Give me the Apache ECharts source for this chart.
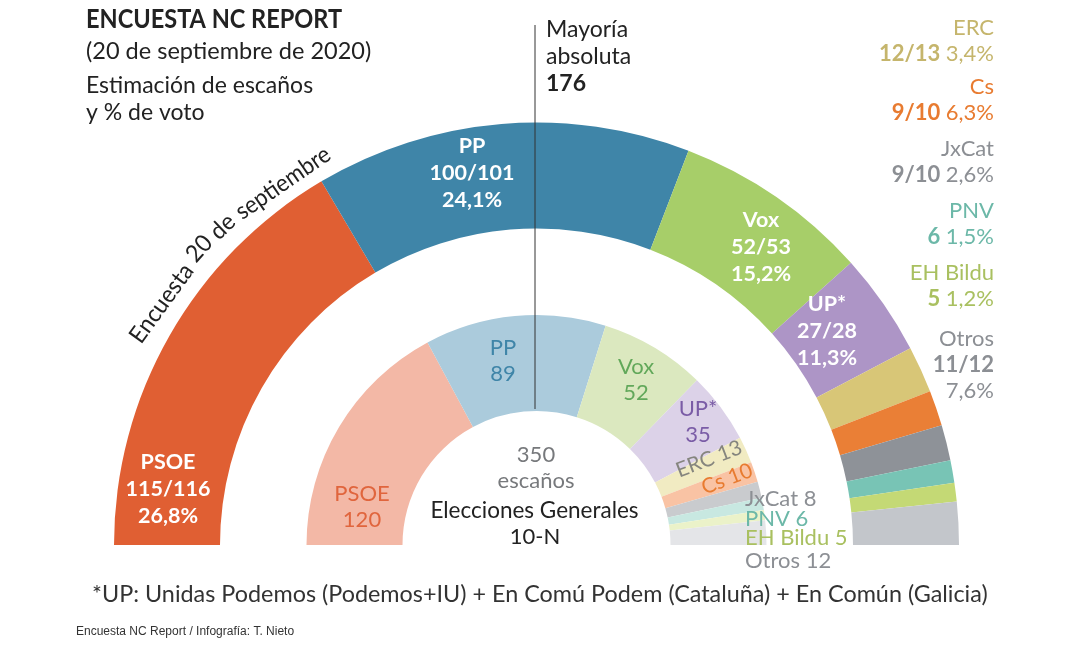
<!DOCTYPE html>
<html><head><meta charset="utf-8">
<style>html,body{margin:0;padding:0;background:#fff}#c{width:1078px;height:656px}</style>
<script src="https://cdn.jsdelivr.net/npm/echarts@6/dist/echarts.min.js"></script>
</head><body><div id="c"></div>
<script>
// Data
const parties = ['PSOE','PP','Vox','UP*','ERC','Cs','JxCat','PNV','EH Bildu','Otros'];
const pollSeats = [115.5,100.5,52.5,27.5,12.5,9.5,9.5,6,5,11.5];
const pollSeatLabels = ['115/116','100/101','52/53','27/28','12/13','9/10','9/10','6','5','11/12'];
const pollVote = ['26,8%','24,1%','15,2%','11,3%','3,4%','6,3%','2,6%','1,5%','1,2%','7,6%'];
const electionSeats = [120,89,52,35,13,10,8,6,5,12];
const pollColors = ['#e05f33','#3f85a8','#a7ce69','#ad95c6','#d8c677','#ea7f36','#8e9298','#78c4b5','#c4d975','#c3c6cb'];
const electionColors = ['#f3b8a6','#abcbdc','#dbe8bf','#dcd2e8','#f1ebc2','#f9c3a4','#c9cbce','#c8e8e1','#ebf2c9','#e4e5e8'];
const pollTextColors = ['#fff','#fff','#fff','#fff','#c5b56c','#e87b30','#8c8f94','#6cb8a8','#a9c060','#8c8f94'];
const electionTextColors = ['#e0653d','#3f85a8','#62a85a','#7a5ca6','#85857e','#e87b30','#8c8f94','#6cb8a8','#a9c060','#8c8f94'];

// Layout of labels
const FONT = 'Lato, "Noto Sans", sans-serif';
const pollPos = [[168,489,'center'],[472,173,'center'],[761,247,'center'],[827,331,'center'],
  [994,41,'right'],[994,100,'right'],[994,162,'right'],[994,224,'right'],[994,286,'right'],[994,365,'right']];
const electionPos = [[362,507,'center',0],[503,361,'center',0],[636,380,'center',0],[698,422,'center',0],
  [709,459,'center',21],[727,479,'center',21],[745,499,'left',0],[745,519,'left',0],[745,538,'left',0],[745,561,'left',0]];
const cx = 536.5, cy = 545;

function pollText(i){
  const n = parties[i], s = pollSeatLabels[i], v = pollVote[i];
  if (i < 4) return `{w|${n}}\n{w|${s}}\n{w|${v}}`;
  if (n === 'Otros') return `{n|${n}}\n{b|${s}}\n{n|${v}}`;
  return `{n|${n}}\n{b|${s}} {n|${v}}`;
}
function electionText(i){
  const n = parties[i], s = electionSeats[i];
  if (i < 4) return `${n}\n${s}`;
  return `${n} ${s}`;
}

const pollData = parties.map((name,i)=>({name,value:pollSeats[i],
  itemStyle:{color:pollColors[i]},
  label:{color:pollTextColors[i]}}));
const electionData = parties.map((name,i)=>({name,value:electionSeats[i],
  itemStyle:{color:electionColors[i]},
  label:{color:electionTextColors[i], fontSize:(i===4||i===5)?21:22}}));

// Curved caption, placed word by word along the arc: word, angle, radius, tilt, width scale
const arcWords = [['Encuesta',32.8,446,54,0.96],['20',41.3,449,48,0.96],['de',45.4,447,44,0.96],['septiembre',55.0,442,34.5,0.93]];
const arcText = arcWords.map(([t,a,r,tilt,sx])=>{
  const ang = a*Math.PI/180;
  return {type:'text',x:cx-r*Math.cos(ang),y:cy-r*Math.sin(ang),rotation:tilt*Math.PI/180,z:10,
    scaleX:sx,
    style:{text:t,fill:'#222',font:'24px '+FONT,align:'center',verticalAlign:'middle'}};
});
function txt(text,x,y,size,fill,weight,align,sx){
  return {type:'text',x,y,z:10,scaleX:sx||1,style:{text,fill,font:(weight||400)+' '+size+'px '+FONT,align:align||'left',verticalAlign:'middle'}};
}

const chart = echarts.init(document.getElementById('c'),null,{renderer:'canvas'});
chart.setOption({
  animation:false,
  backgroundColor:'#fff',
  series:[
    {type:'pie',center:[cx,cy],radius:[316.5,422.5],startAngle:180,endAngle:0,clockwise:true,
     avoidLabelOverlap:false,silent:true,data:pollData,labelLine:{show:false},
     itemStyle:{borderWidth:0},
     label:{show:true,position:'inside',fontFamily:FONT,fontSize:22,lineHeight:27,
       formatter:p=>pollText(p.dataIndex),
       rich:{w:{fontWeight:700,fontSize:21.5,lineHeight:27,fontFamily:FONT},
             n:{fontSize:22,lineHeight:26,fontFamily:FONT},
             b:{fontWeight:700,fontSize:22,lineHeight:26,fontFamily:FONT}}},
     labelLayout:p=>{const q=pollPos[p.dataIndex];return {x:q[0],y:q[1],align:q[2],verticalAlign:'middle'};}
    },
    {type:'pie',center:[cx,cy],radius:[134,230],startAngle:180,endAngle:0,clockwise:true,
     avoidLabelOverlap:false,silent:true,data:electionData,labelLine:{show:false},
     itemStyle:{borderWidth:0},
     label:{show:true,position:'inside',fontFamily:FONT,fontSize:22,lineHeight:26,
       formatter:p=>electionText(p.dataIndex)},
     labelLayout:p=>{const q=electionPos[p.dataIndex];return {x:q[0],y:q[1],align:q[2],verticalAlign:'middle',rotate:q[3]};}
    }
  ],
  graphic:[
    {type:'line',z:9,shape:{x1:535,y1:25,x2:535,y2:409},style:{stroke:'#333',lineWidth:1}},
    txt('ENCUESTA NC REPORT',86,20,26,'#222',700,'left',0.905),
    txt('(20 de septiembre de 2020)',86,51,24,'#222',400,'left',0.98),
    txt('Estimación de escaños',86,86,23,'#222'),
    txt('y % de voto',86,113,23,'#222'),
    txt('Mayoría',546,30,23,'#222'),
    txt('absoluta',546,57,23,'#222'),
    txt('176',546,84,23,'#222',700),
    txt('350',536,455,22,'#77797c',400,'center'),
    txt('escaños',536,481,22,'#77797c',400,'center'),
    txt('Elecciones Generales',534.5,511,22.5,'#222',400,'center'),
    txt('10-N',535,537,22,'#222',400,'center'),
    txt('*UP: Unidas Podemos (Podemos+IU) + En Comú Podem (Cataluña) + En Común (Galicia)',92,594,24,'#333',400,'left',0.974),
    {type:'text',x:76,y:632,z:10,style:{text:'Encuesta NC Report / Infografía: T. Nieto',fill:'#333',font:'12px "Liberation Sans", Arial, sans-serif',align:'left',verticalAlign:'middle'}},
    ...arcText
  ]
});
</script></body></html>
